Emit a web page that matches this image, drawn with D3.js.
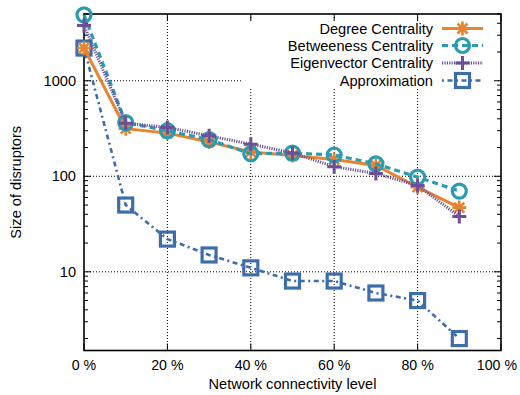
<!DOCTYPE html>
<html><head><meta charset="utf-8">
<script src="https://cdn.jsdelivr.net/npm/d3@7"></script>
<style>body{margin:0;background:#fff;}svg{display:block;font-family:"Liberation Sans",Arial,sans-serif;}</style>
</head><body>
<svg id="c" width="520" height="395"></svg>
<script>
const levels = [0, 10, 20, 30, 40, 50, 60, 70, 80, 90];
const degree = [2200, 315, 283, 229, 180, 165, 150, 130, 77, 47];
const betweenness = [4900, 365, 300, 242, 172, 175, 167, 135, 98, 70];
const eigenvector = [3800, 360, 325, 265, 217, 175, 126, 107, 80, 38];
const approximation = [2200, 50, 22, 15, 11, 8, 8, 6, 5, 2];
const xTicks = [0, 20, 40, 60, 80, 100];
const yTicks = [10, 100, 1000];
const seriesNames = ["Degree Centrality", "Betweeness Centrality", "Eigenvector Centrality", "Approximation"];

const svg = d3.select("#c");
const L = 84, R = 501, T = 14, B = 350.5;
const FS = 14.6;
const x = d3.scaleLinear().domain([0, 100]).range([L, R]);
const y = d3.scaleLog().domain([1.5, 5000]).range([B, T]);

// grid
const g = svg.append("g");
g.selectAll(".gx").data(xTicks.filter(d => d > 0 && d < 100)).join("line")
  .attr("x1", d => x(d)).attr("x2", d => x(d)).attr("y1", T).attr("y2", B)
  .attr("stroke", "#000").attr("stroke-width", 1).attr("stroke-dasharray", "1,2");
g.selectAll(".gy").data(yTicks).join("line")
  .attr("x1", L).attr("x2", R).attr("y1", d => y(d)).attr("y2", d => y(d))
  .attr("stroke", "#000").attr("stroke-width", 1).attr("stroke-dasharray", "1,2");

// legend background
svg.append("rect").attr("x", 241).attr("y", 20).attr("width", 256).attr("height", 68).attr("fill", "#fff");

// ticks
const minor = [];
[1, 10, 100, 1000].forEach(dec => { for (let k = 2; k <= 9; k++) { const v = dec * k; if (v >= 1.5 && v <= 5000) minor.push(v); } });
const tk = svg.append("g").attr("stroke", "#000").attr("stroke-width", 1);
yTicks.forEach(v => {
  tk.append("line").attr("x1", L).attr("x2", L + 7).attr("y1", y(v)).attr("y2", y(v));
  tk.append("line").attr("x1", R).attr("x2", R - 7).attr("y1", y(v)).attr("y2", y(v));
});
minor.forEach(v => {
  tk.append("line").attr("x1", L).attr("x2", L + 4).attr("y1", y(v)).attr("y2", y(v));
  tk.append("line").attr("x1", R).attr("x2", R - 4).attr("y1", y(v)).attr("y2", y(v));
});
xTicks.forEach(v => {
  tk.append("line").attr("x1", x(v)).attr("x2", x(v)).attr("y1", B).attr("y2", B - 7);
  tk.append("line").attr("x1", x(v)).attr("x2", x(v)).attr("y1", T).attr("y2", T + 7);
});

// border
svg.append("rect").attr("x", L).attr("y", T).attr("width", R - L).attr("height", B - T)
  .attr("fill", "none").attr("stroke", "#000").attr("stroke-width", 1.6);

// tick labels
svg.append("g").selectAll("text").data(yTicks).join("text")
  .attr("x", 76).attr("y", d => y(d)).attr("dy", "0.35em").attr("text-anchor", "end")
  .attr("font-size", FS).text(d => d);
svg.append("g").selectAll("text").data(xTicks).join("text")
  .attr("x", d => d === 100 ? 517 : x(d)).attr("y", 370)
  .attr("text-anchor", d => d === 100 ? "end" : "middle")
  .attr("font-size", 14.2).text(d => d + " %");
svg.append("text").attr("x", (L + R) / 2).attr("y", 389).attr("text-anchor", "middle")
  .attr("font-size", FS).text("Network connectivity level");
svg.append("text").attr("transform", "translate(21," + ((T + B) / 2) + ") rotate(-90)")
  .attr("text-anchor", "middle").attr("font-size", FS).text("Size of disruptors");

const colors = ["#e8832f", "#2b9bb0", "#6d4f97", "#3e6ea8"];
const dashes = [null, "6,4", "1.2,1.2", "2,3.5,5,3.5"];
const widths = [3, 3.2, 3, 2.6];
const data = [degree, betweenness, eigenvector, approximation];

function marker(sel, i, cx, cy) {
  const c = colors[i];
  if (i === 0) {
    const s = 7;
    const p = `M${cx - s},${cy}L${cx + s},${cy}M${cx},${cy - s}L${cx},${cy + s}M${cx - 5},${cy - 5}L${cx + 5},${cy + 5}M${cx - 5},${cy + 5}L${cx + 5},${cy - 5}`;
    sel.append("path").attr("d", p).attr("stroke", c).attr("stroke-width", 2.6).attr("fill", "none");
  } else if (i === 1) {
    sel.append("circle").attr("cx", cx).attr("cy", cy).attr("r", 7).attr("fill", "none")
      .attr("stroke", c).attr("stroke-width", 3.2);
  } else if (i === 2) {
    const s = 7;
    sel.append("path").attr("d", `M${cx - s},${cy}L${cx + s},${cy}M${cx},${cy - s}L${cx},${cy + s}`)
      .attr("stroke", c).attr("stroke-width", 3).attr("fill", "none");
  } else {
    sel.append("rect").attr("x", cx - 7).attr("y", cy - 7).attr("width", 14).attr("height", 14)
      .attr("fill", "none").attr("stroke", c).attr("stroke-width", 3.2);
  }
}

const line = d3.line().x(d => x(d[0])).y(d => y(d[1]));
const order = [3, 0, 1, 2];
order.forEach(i => {
  const pts = levels.map((l, j) => [l, data[i][j]]);
  const gg = svg.append("g");
  gg.append("path").attr("d", line(pts)).attr("fill", "none").attr("stroke", colors[i])
    .attr("stroke-width", widths[i]).attr("stroke-dasharray", dashes[i]);
  pts.forEach(p => marker(gg, i, x(p[0]), y(p[1])));
});

// legend
const lg = svg.append("g");
const rowsY = [28.5, 45.5, 63, 80.5];
seriesNames.forEach((n, i) => {
  lg.append("text").attr("x", 433).attr("y", rowsY[i]).attr("dy", "0.35em").attr("text-anchor", "end")
    .attr("font-size", FS).text(n);
  lg.append("line").attr("x1", 442).attr("x2", 483).attr("y1", rowsY[i]).attr("y2", rowsY[i])
    .attr("stroke", colors[i]).attr("stroke-width", widths[i]).attr("stroke-dasharray", dashes[i]);
  marker(lg, i, 462.5, rowsY[i]);
});
</script>
</body></html>
